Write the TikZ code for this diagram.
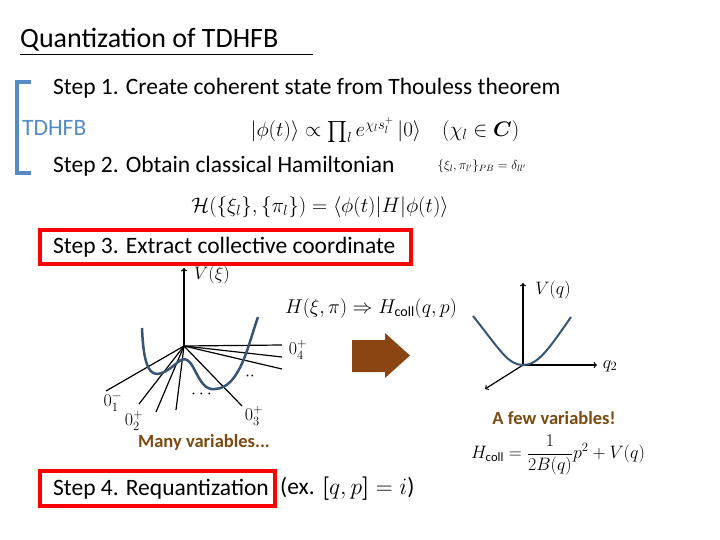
\documentclass[tikz,border=0pt]{standalone}
\usepackage{fix-cm}
\usepackage{fontspec}
\usepackage{amsmath,amssymb}
\setmainfont{Carlito}
\definecolor{tdblue}{RGB}{84,141,196}
\definecolor{curveblue}{RGB}{55,85,115}
\definecolor{brownish}{RGB}{122,74,16}
\definecolor{arrowbrown}{RGB}{139,69,19}
\tikzset{
  steptext/.style={anchor=west, font=\fontsize{23.5}{26}\selectfont, inner sep=0pt},
  redbox/.style={draw=red, line width=4pt},
  axis/.style={->, line width=1.2pt},
  ray/.style={line width=1.2pt},
  potential/.style={curveblue, line width=2.5pt},
  note/.style={brownish, font=\bfseries\fontsize{18.5}{20}\selectfont},
  mathlabel/.style={font=\fontsize{18}{20}\selectfont, inner sep=1pt}
}
\begin{document}
\begin{tikzpicture}[x=1pt,y=-1pt]
\useasboundingbox (0,0) rectangle (720,540);
\node[anchor=west, font=\fontsize{28}{30}\selectfont, inner sep=0pt] (title) at (20,40) {Quantization of TDHFB};
\draw (20,54) -- (313,54);
% TDHFB bracket
\draw[tdblue, line width=3.5pt] (31,82) -- (17,82) -- (17,173) -- (31,173);
\node[anchor=west, tdblue, font=\fontsize{23.5}{26}\selectfont, inner sep=0pt] (tdhfb) at (22,128) {TDHFB};
\node[steptext] (step1) at (53,88) {Step 1. Create coherent state from Thouless theorem};
\node[mathlabel, font=\fontsize{21}{24}\selectfont] (state) at (385,130) {$|\phi(t)\rangle \propto \prod_l e^{\chi_l s_l^{+}}\,|0\rangle \quad (\chi_l \in \boldsymbol{C})$};
\node[steptext] (step2) at (53,166) {Step 2. Obtain classical Hamiltonian};
\node[font=\fontsize{13}{14}\selectfont] (pb) at (482,166) {$\{\xi_l,\pi_{l'}\}_{PB}=\delta_{ll'}$};
\node[mathlabel, font=\fontsize{21}{24}\selectfont] (ham) at (320,207) {$\mathcal{H}(\{\xi_l\},\{\pi_l\}) = \langle\phi(t)|H|\phi(t)\rangle$};
\draw[redbox] (40,230) rectangle (411,264);
\node[steptext] (step3) at (53,247) {Step 3. Extract collective coordinate};
% many variables
\coordinate (o) at (184,346);
\draw[axis] (o) -- (184,268);
\node[mathlabel] (vxi) at (212,275) {$V(\xi)$};
\foreach \ex/\ey in {106/391,139/404,156/412,176/410,242/406,282/369,282/357,282/345}
  \draw[ray] (o) -- (\ex,\ey);
\node[mathlabel] (l1) at (113,402) {$0_1^-$};
\node[mathlabel] (l2) at (134,421) {$0_2^+$};
\node[mathlabel] (l3) at (254,416) {$0_3^+$};
\node[mathlabel] (l4) at (298,350) {$0_4^+$};
\node[font=\fontsize{18}{20}\selectfont] (dots1) at (203,394) {$\cdots$};
\node[font=\fontsize{18}{20}\selectfont] (dots2) at (250,376) {$\cdot\cdot$};
\draw[potential] (142,328) .. controls (144,375) and (152,385) .. (178,362)
  .. controls (195,348) and (195,392) .. (215,389)
  .. controls (240,388) and (248,345) .. (258,317);
\node[note] (many) at (204,442) {Many variables...};
\node[mathlabel, font=\fontsize{20}{22}\selectfont] (map) at (371,308) {$H(\xi,\pi)\Rightarrow H_{\mathrm{coll}}(q,p)$};
\fill[arrowbrown] (352,340) -- (385,340) -- (385,333) -- (410,355.5) -- (385,378) -- (385,372) -- (352,372) -- cycle;
% few variables
\coordinate (p) at (523,365);
\draw[axis] (p) -- (523,283);
\draw[axis] (p) -- (597,365);
\draw[axis] (p) -- (485,389);
\node[mathlabel] (vq) at (553,290) {$V(q)$};
\node[mathlabel] (q2) at (610,366) {$q_2$};
\draw[potential, line width=2pt] (473,316) .. controls (500,350) and (508,365) .. (523,365)
  .. controls (538,365) and (548,350) .. (571,317);
\node[note] (few) at (554,418) {A few variables!};
\node[mathlabel] (hcoll) at (558,455) {$H_{\mathrm{coll}}=\dfrac{1}{2B(q)}p^2+V(q)$};
\draw[redbox] (40,471) rectangle (275,506);
\node[steptext] (step4) at (53,489) {Step 4. Requantization};
\node[anchor=west, font=\fontsize{23.5}{26}\selectfont, inner sep=0pt] (ex) at (280,489) {(ex. $\boldsymbol{[}q,p\boldsymbol{]}=i$)};
\end{tikzpicture}
\end{document}
